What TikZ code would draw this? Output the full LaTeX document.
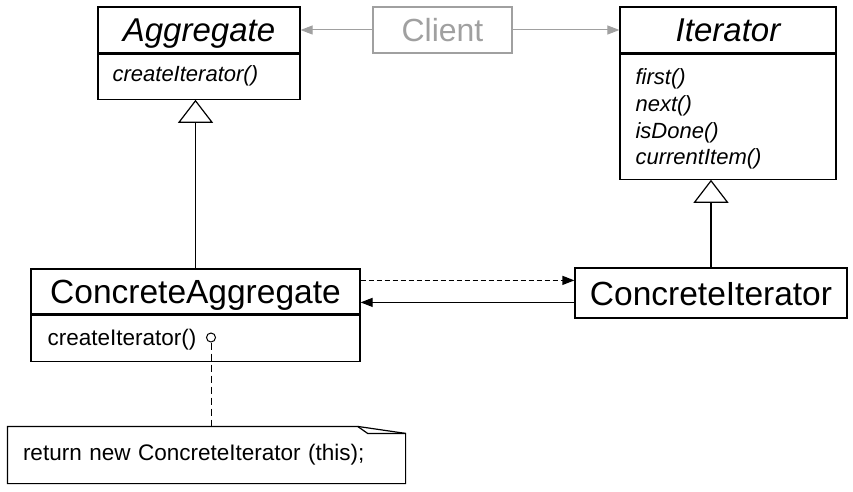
\documentclass[tikz,border=0pt]{standalone}
\usepackage{fontspec}
\setmainfont{Liberation Sans}
\usetikzlibrary{arrows.meta}
\definecolor{clientgray}{RGB}{160,160,160}
\newcommand{\titlesize}{\fontsize{33.5}{36}\selectfont}
\newcommand{\opsize}{\fontsize{22.5}{26.7}\selectfont}

\begin{document}
\begin{tikzpicture}[x=1pt, y=-1pt, line width=1.2pt,
		cls/.style={draw, inner sep=0pt, font=\titlesize, text height=24pt, text depth=0pt},
		ops/.style={draw, inner sep=0pt},
		op/.style={inner sep=0pt, anchor=west, font=\opsize, align=left},
		inherit/.style={-{Triangle[open, length=23pt, width=35pt]}},
		call/.style={-{Triangle[length=12pt, width=9pt]}}]
			\useasboundingbox (0,0) rectangle (853,492);
			
			% Nodes - top row
			\node[cls, draw=clientgray, text=clientgray, font=\fontsize{32}{36}\selectfont, text height=23pt, minimum width=139, minimum height=46] (Client) at (442.5,30) {Client};
			\node[cls, font=\fontsize{33}{36}\selectfont\itshape, minimum width=202, minimum height=46] (Agg) at (199,30) {Aggregate};
			\node[ops, minimum width=202, minimum height=45, anchor=north] (AggOps) at (Agg.south) {};
			\node[op, font=\fontsize{22}{26.7}\selectfont\itshape] (AggOp1) at (112,76) {createIterator()};
			\node[cls, font=\fontsize{33}{36}\selectfont\itshape, minimum width=216, minimum height=46] (Iter) at (728,30) {Iterator};
			\node[ops, minimum width=216, minimum height=125, anchor=north] (IterOps) at (Iter.south) {};
			\node[op, font=\fontsize{22}{26.7}\selectfont\itshape] (IterOp1) at (635,119) {first()\\next()\\isDone()\\currentItem()};
			
			% Nodes - bottom row
			\node[cls, minimum width=329, minimum height=45] (CAgg) at (195.5,291.5) {ConcreteAggregate};
			\node[ops, minimum width=329, minimum height=46, anchor=north] (CAggOps) at (CAgg.south) {};
			\node[op] (CAggOp1) at (47,340) {createIterator()};
			\node[draw, circle, inner sep=0pt, minimum size=9, line width=1pt] (CAggDot) at (211,337.5) {};
			\node[cls, minimum width=272, minimum height=50] (CIter) at (711,293) {ConcreteIterator};
			
			% Note
			\node[op, anchor=center, text width=367, inner xsep=15, minimum height=56] (Note) at (206.5,455) {return new ConcreteIterator (this);};
			\draw (Note.north west) -- ([xshift=-48pt]Note.north east) -- ([yshift=-7pt]Note.north east) -- (Note.south east) -- (Note.south west) -- cycle;
			\draw ([xshift=-48pt]Note.north east) -- ([xshift=-38pt, yshift=-7pt]Note.north east) -- ([yshift=-7pt]Note.north east);
			
			% Edges
			\coordinate (dashA) at ([yshift=-12pt]CAgg.north east);
			\coordinate (solidB) at ([yshift=-35pt]CIter.north west);
			\draw[call, clientgray, line width=1pt] (Client) -- (Agg); \draw[call, clientgray, line width=1pt] (Client) -- (Iter);
			\draw[inherit] (CAgg.north) -- (CAgg.north |- AggOps.south); \draw[inherit] (CIter.north) -- (CIter.north |- IterOps.south);
			\draw[call, dash pattern=on 5pt off 3pt] (dashA) -- (dashA -| CIter.west); \draw[call] (solidB) -- (solidB -| CAgg.east);
			\draw[line width=1pt, dash pattern=on 7pt off 4pt] (CAggDot) -- (CAggDot |- Note.north);
		\end{tikzpicture}
\end{document}
